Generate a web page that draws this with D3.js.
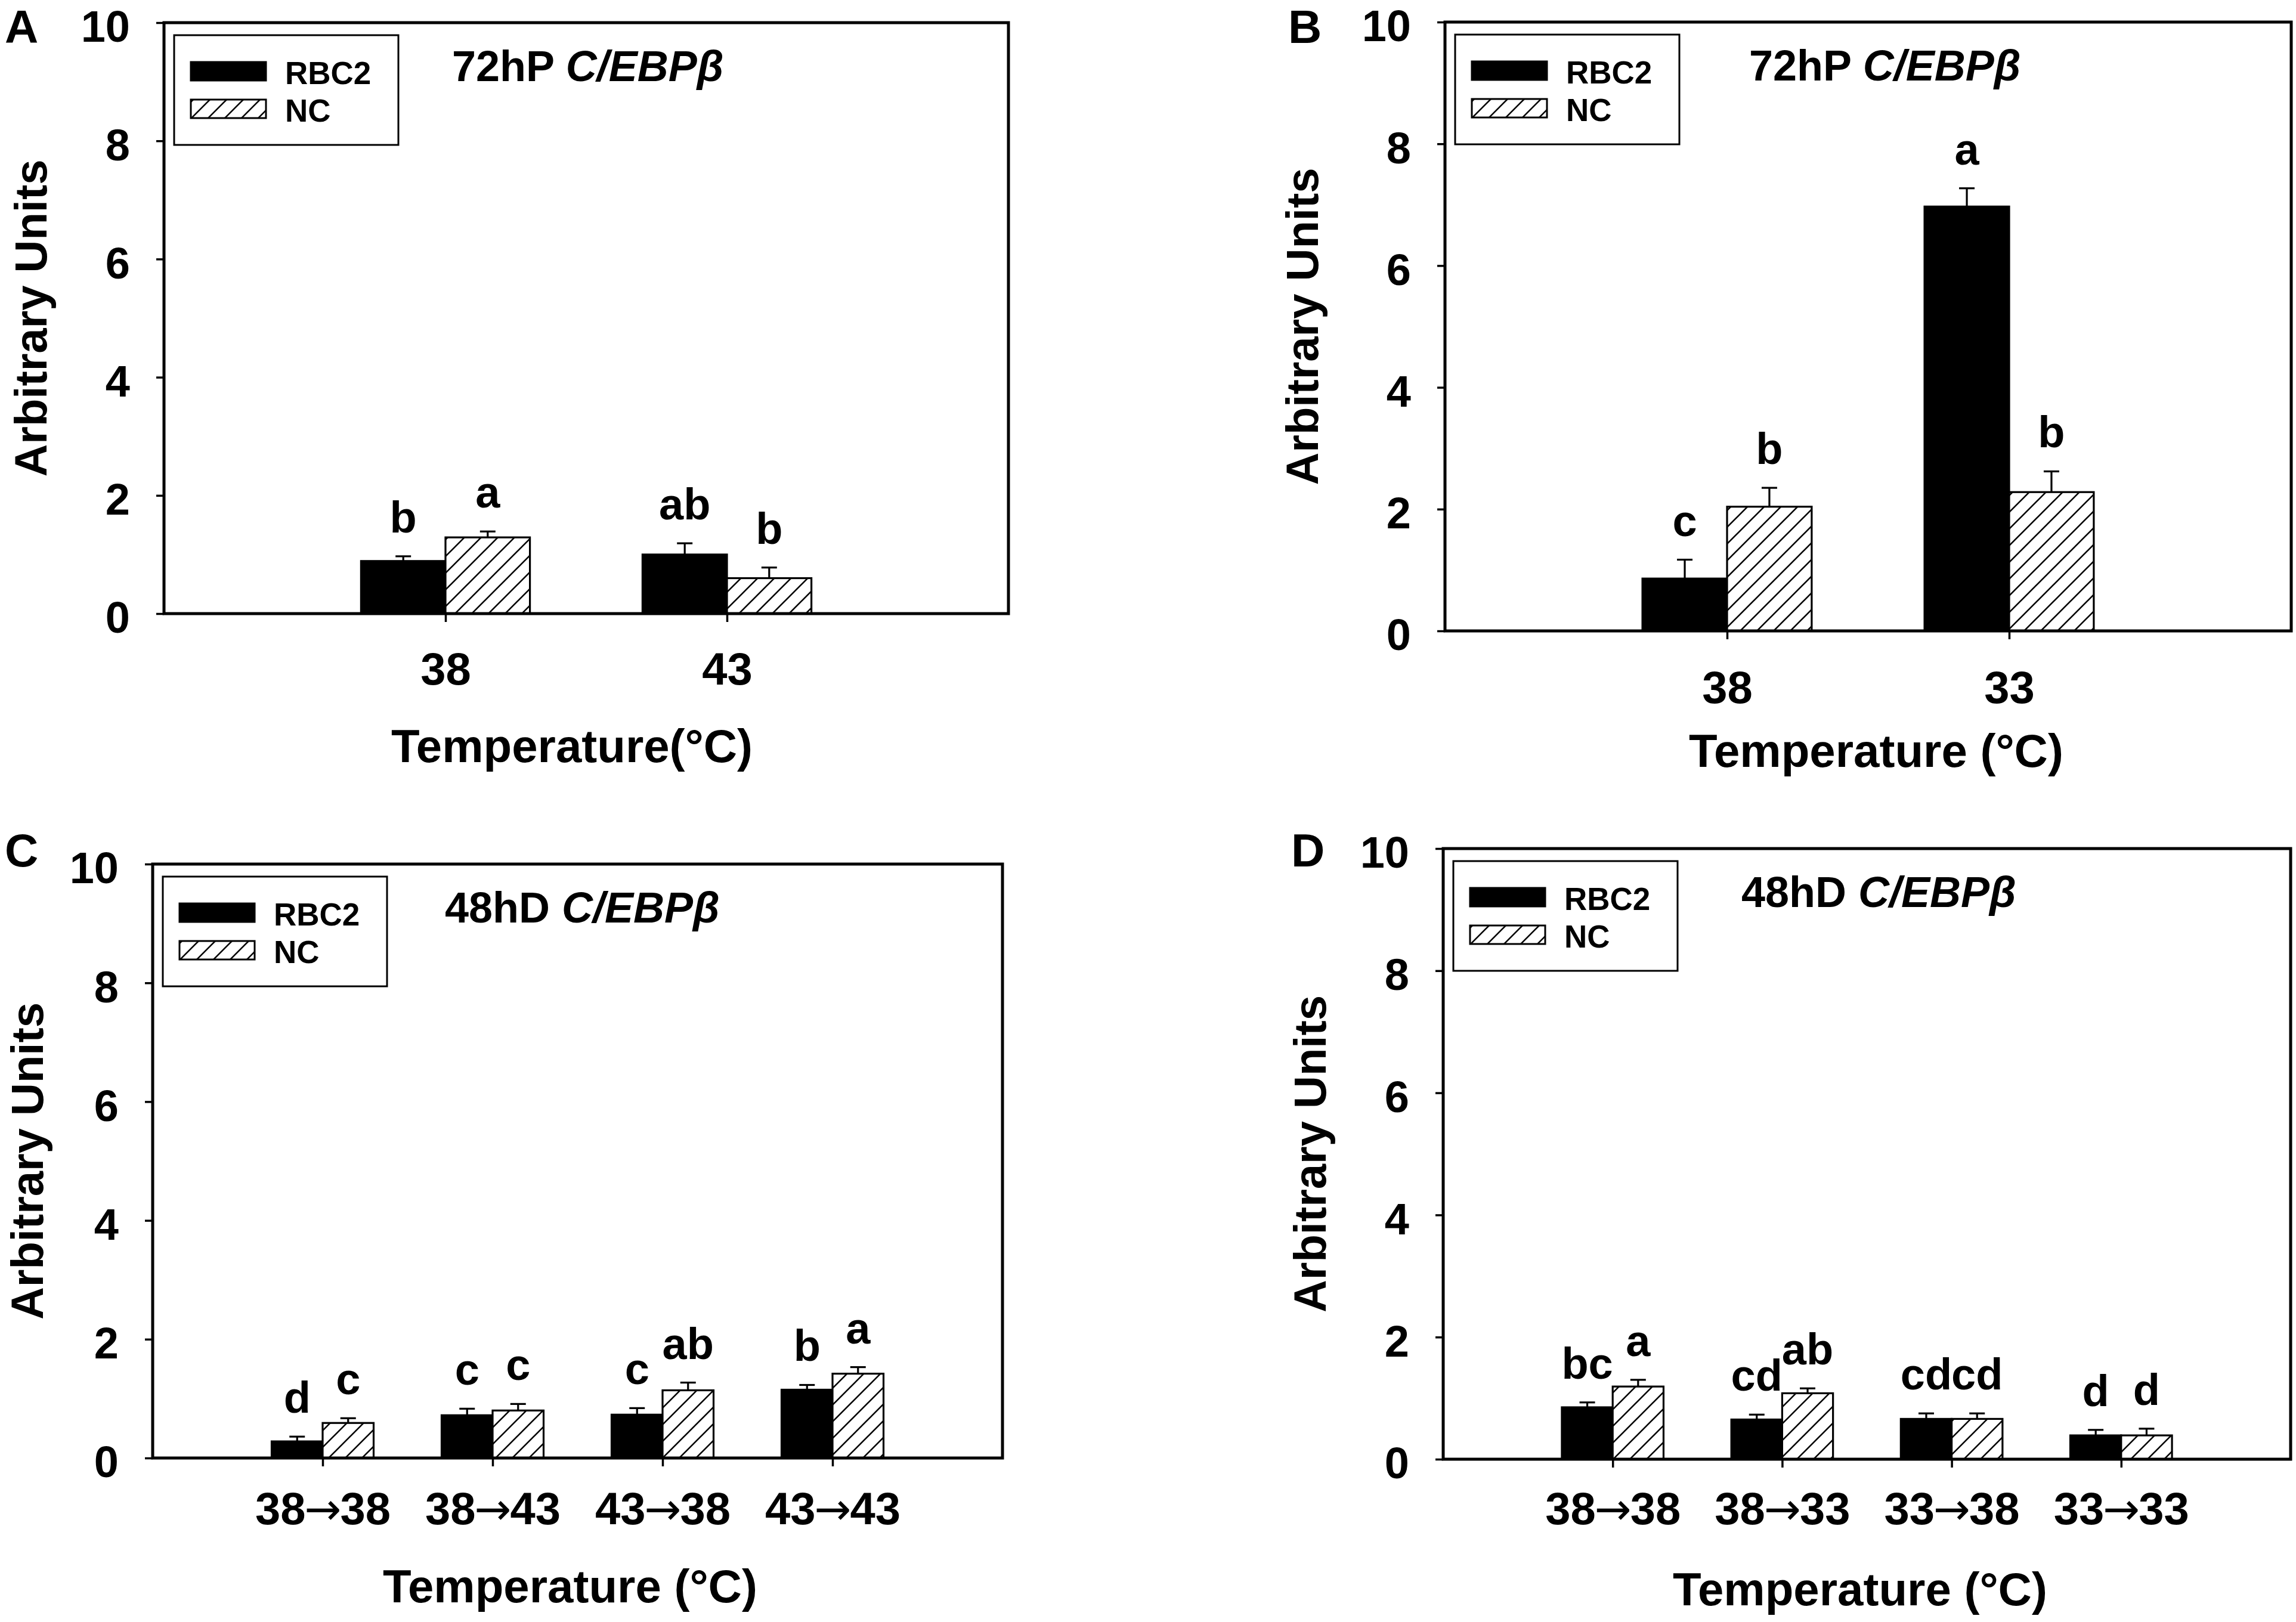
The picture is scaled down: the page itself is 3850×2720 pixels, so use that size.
<!DOCTYPE html>
<html>
<head>
<meta charset="utf-8">
<script src="https://cdn.jsdelivr.net/npm/d3@7"></script>
<style>
  body { margin: 0; background: #fff; }
  svg { display: block; }
  text { font-family: "Liberation Sans", Arial, sans-serif; font-weight: bold; fill: #000; }
</style>
</head>
<body>
<svg id="fig" width="3850" height="2720"></svg>
<script>
// Four bar panels, RBC2 (solid) vs NC (hatched), mean + upward SE bar and letter groups.

const seriesNames = ["RBC2", "NC"];

// A: 72hP
const catsA = ["38", "43"];
const rbc2A = [0.89, 1.00];
const rbc2ErrA = [0.08, 0.19];
const ncA = [1.29, 0.60];
const ncErrA = [0.10, 0.18];
const sigRbc2A = ["b", "ab"];
const sigNcA = ["a", "b"];

// B: 72hP
const catsB = ["38", "33"];
const rbc2B = [0.86, 6.97];
const rbc2ErrB = [0.31, 0.30];
const ncB = [2.04, 2.28];
const ncErrB = [0.31, 0.34];
const sigRbc2B = ["c", "a"];
const sigNcB = ["b", "b"];

// C: 48hD
const catsC = ["38→38", "38→43", "43→38", "43→43"];
const rbc2C = [0.28, 0.72, 0.73, 1.15];
const rbc2ErrC = [0.08, 0.11, 0.11, 0.08];
const ncC = [0.59, 0.80, 1.14, 1.42];
const ncErrC = [0.08, 0.11, 0.13, 0.11];
const sigRbc2C = ["d", "c", "c", "b"];
const sigNcC = ["c", "c", "ab", "a"];

// D: 48hD
const catsD = ["38→38", "38→33", "33→38", "33→33"];
const rbc2D = [0.85, 0.65, 0.66, 0.39];
const rbc2ErrD = [0.08, 0.08, 0.09, 0.09];
const ncD = [1.19, 1.08, 0.66, 0.39];
const ncErrD = [0.11, 0.08, 0.09, 0.11];
const sigRbc2D = ["bc", "cd", "cd", "d"];
const sigNcD = ["a", "ab", "cd", "d"];

const yTicks = [0, 2, 4, 6, 8, 10];

const svg = d3.select("#fig");
svg.append("rect").attr("width", 3850).attr("height", 2720).attr("fill", "#fff");

// hatch "/" pattern
const defs = svg.append("defs");
const pat = defs.append("pattern")
  .attr("id", "hatch")
  .attr("patternUnits", "userSpaceOnUse")
  .attr("width", 28).attr("height", 28);
pat.append("rect").attr("width", 28).attr("height", 28).attr("fill", "#fff");
pat.append("path")
  .attr("d", "M-7,7 L7,-7 M0,28 L28,0 M21,35 L35,21")
  .attr("stroke", "#000").attr("stroke-width", 2.6);

const panels = [
  { letter: "A", cats: catsA, rbc2: rbc2A, rbc2Err: rbc2ErrA, nc: ncA, ncErr: ncErrA,
    sigR: sigRbc2A, sigN: sigNcA, head: "72hP", xTitle: "Temperature(°C)",
    box: { l: 275, t: 38, r: 1691, b: 1029 }, letterPos: [8, 72],
    yTitleX: 78, titleDx: 483, xLabelDy: 92, xTitlePos: [959, 1278] },
  { letter: "B", cats: catsB, rbc2: rbc2B, rbc2Err: rbc2ErrB, nc: ncB, ncErr: ncErrB,
    sigR: sigRbc2B, sigN: sigNcB, head: "72hP", xTitle: "Temperature (°C)",
    box: { l: 2423, t: 37, r: 3842, b: 1058 }, letterPos: [2160, 72],
    yTitleX: 2210, titleDx: 510, xLabelDy: 94, xTitlePos: [3146, 1286] },
  { letter: "C", cats: catsC, rbc2: rbc2C, rbc2Err: rbc2ErrC, nc: ncC, ncErr: ncErrC,
    sigR: sigRbc2C, sigN: sigNcC, head: "48hD", xTitle: "Temperature (°C)",
    box: { l: 256, t: 1449, r: 1681, b: 2445 }, letterPos: [8, 1453],
    yTitleX: 72, titleDx: 490, xLabelDy: 84, xTitlePos: [956, 2687] },
  { letter: "D", cats: catsD, rbc2: rbc2D, rbc2Err: rbc2ErrD, nc: ncD, ncErr: ncErrD,
    sigR: sigRbc2D, sigN: sigNcD, head: "48hD", xTitle: "Temperature (°C)",
    box: { l: 2420, t: 1423, r: 3841, b: 2447 }, letterPos: [2165, 1453],
    yTitleX: 2223, titleDx: 500, xLabelDy: 82, xTitlePos: [3119, 2692] }
];

panels.forEach(drawPanel);

// write a tick label, drawing "→" in a thinner arrow glyph like the original
function arrowLabel(sel, label) {
  sel.text(null);
  const parts = label.split("→");
  parts.forEach((part, k) => {
    if (k > 0) {
      sel.append("tspan")
        .style("font-family", "'DejaVu Sans', sans-serif")
        .style("font-weight", "normal")
        .style("font-size", "74px")
        .attr("dx", -2)
        .text("→");
    }
    sel.append("tspan").attr("dx", k > 0 ? -2 : 0).text(part);
  });
}

function drawPanel(p) {
  const { l, t, r, b } = p.box;
  const n = p.cats.length;
  const g = svg.append("g");

  const x = d3.scaleLinear().domain([0, n + 1]).range([l, r]);
  const y = d3.scaleLinear().domain([0, 10]).range([b, t]);
  const step = x(1) - x(0);
  const bw = step * 0.3;

  // series rows
  const rows = [];
  p.cats.forEach((c, i) => {
    rows.push({ s: 0, i, v: p.rbc2[i], e: p.rbc2Err[i], sig: p.sigR[i] });
    rows.push({ s: 1, i, v: p.nc[i], e: p.ncErr[i], sig: p.sigN[i] });
  });
  const bx = d => x(d.i + 1) + (d.s === 0 ? -bw : 0);

  // bars
  g.selectAll("rect.bar").data(rows).join("rect")
    .attr("class", "bar")
    .attr("x", bx)
    .attr("y", d => y(d.v))
    .attr("width", bw)
    .attr("height", d => y(0) - y(d.v))
    .attr("fill", d => d.s === 0 ? "#000" : "url(#hatch)")
    .attr("stroke", "#000").attr("stroke-width", 3.2);

  // error bars (upper only)
  const eb = g.selectAll("g.err").data(rows).join("g").attr("class", "err");
  eb.append("line")
    .attr("x1", d => bx(d) + bw / 2).attr("x2", d => bx(d) + bw / 2)
    .attr("y1", d => y(d.v)).attr("y2", d => y(d.v + d.e))
    .attr("stroke", "#000").attr("stroke-width", 3.2);
  eb.append("line")
    .attr("x1", d => bx(d) + bw / 2 - 13).attr("x2", d => bx(d) + bw / 2 + 13)
    .attr("y1", d => y(d.v + d.e)).attr("y2", d => y(d.v + d.e))
    .attr("stroke", "#000").attr("stroke-width", 3.2);

  // significance letters
  g.selectAll("text.sig").data(rows).join("text")
    .attr("class", "sig")
    .attr("x", d => bx(d) + bw / 2)
    .attr("y", d => y(d.v + d.e) - 40)
    .attr("text-anchor", "middle")
    .style("font-size", "74px")
    .text(d => d.sig);

  // y axis
  const ya = g.append("g").attr("transform", `translate(${l},0)`)
    .call(d3.axisLeft(y).tickValues(yTicks).tickSize(13).tickPadding(44));
  ya.select(".domain").remove();
  ya.selectAll(".tick line").attr("stroke", "#000").attr("stroke-width", 3.5);
  ya.selectAll(".tick text").style("font-size", "74px").attr("dy", "0.43em")
    .attr("font-family", null).attr("fill", "#000");

  // x axis
  const xa = g.append("g").attr("transform", `translate(0,${b})`)
    .call(d3.axisBottom(x).tickValues(d3.range(1, n + 1)).tickFormat(i => p.cats[i - 1]).tickSize(14));
  xa.select(".domain").remove();
  xa.selectAll(".tick line").attr("stroke", "#000").attr("stroke-width", 3.5);
  xa.selectAll(".tick text").style("font-size", "76px")
    .attr("y", p.xLabelDy).attr("dy", "0.36em")
    .attr("font-family", null).attr("fill", "#000")
    .each(function (i) { arrowLabel(d3.select(this), p.cats[i - 1]); });

  // frame
  g.append("rect")
    .attr("x", l).attr("y", t).attr("width", r - l).attr("height", b - t)
    .attr("fill", "none").attr("stroke", "#000").attr("stroke-width", 5);

  // legend
  const lg = g.append("g").attr("transform", `translate(${l + 17},${t + 21})`);
  lg.append("rect").attr("width", 376).attr("height", 184)
    .attr("fill", "#fff").attr("stroke", "#000").attr("stroke-width", 3);
  seriesNames.forEach((name, k) => {
    lg.append("rect")
      .attr("x", 28).attr("y", 45 + k * 63).attr("width", 126).attr("height", 31)
      .attr("fill", k === 0 ? "#000" : "url(#hatch)")
      .attr("stroke", "#000").attr("stroke-width", 3);
    lg.append("text")
      .attr("x", 186).attr("y", 82 + k * 63)
      .style("font-size", "53px")
      .text(name);
  });

  // panel heading
  const ht = g.append("text")
    .attr("x", l + p.titleDx).attr("y", t + 98)
    .style("font-size", "72px");
  ht.append("tspan").text(p.head + " ");
  ht.append("tspan").style("font-style", "italic").text("C/EBPβ");

  // panel letter
  g.append("text")
    .attr("x", p.letterPos[0]).attr("y", p.letterPos[1])
    .style("font-size", "78px")
    .text(p.letter);

  // axis titles
  g.append("text")
    .attr("transform", `translate(${p.yTitleX},${(t + b) / 2}) rotate(-90)`)
    .attr("text-anchor", "middle")
    .style("font-size", "76px")
    .text("Arbitrary Units");

  g.append("text")
    .attr("x", p.xTitlePos[0]).attr("y", p.xTitlePos[1])
    .attr("text-anchor", "middle")
    .style("font-size", "78px")
    .text(p.xTitle);
}
</script>
</body>
</html>
